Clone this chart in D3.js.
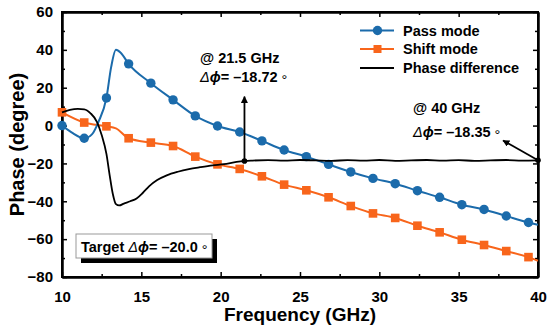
<!DOCTYPE html>
<html><head><meta charset="utf-8">
<script src="https://cdn.jsdelivr.net/npm/d3@7"></script>
<style>
body{margin:0;background:#fff;}
svg{display:block;font-family:Arial,"Liberation Sans",sans-serif;}
</style></head>
<body><svg id="c" width="550" height="331"></svg>
<script>
// ---- data ----
const markerFreq = [10,11.4,12.8,14.2,15.6,17.0,18.4,19.8,21.2,22.6,24.0,25.4,26.8,28.2,29.6,31.0,32.4,33.8,35.2,36.6,38.0,39.4];
const passMarkers = [0,-6.7,14.6,32.6,22.4,13.6,5.1,-0.2,-3.4,-8.1,-12.9,-16.4,-20.5,-24.5,-27.9,-30.7,-34.4,-37.9,-41.8,-44.3,-47.8,-51.2];
const shiftMarkers = [7.0,1.6,-0.4,-6.7,-9.0,-10.8,-16.4,-20.5,-22.9,-26.8,-31.2,-34.2,-37.9,-42.5,-46.4,-48.8,-52.9,-56.4,-60.3,-63.1,-66.3,-69.5];
const passExtraFreq = [10.6,11.9,12.3,13.1,13.4,13.7,40];
const passExtraVal  = [-3.6,-4.5,2.0,31.0,40.0,38.5,-52.4];
const shiftExtraFreq = [13.4,40];
const shiftExtraVal  = [-1.5,-71.4];
const diffFreq = [10,10.5,11.0,11.4,11.8,12.2,12.5,12.8,13.0,13.2,13.4,13.6,13.9,14.3,14.7,15.1,15.5,16.0,16.6,17.3,18.0,18.7,19.5,20.2,21.0,21.5,22,23,24,25,26,27,28,29,30,31,32,33,34,35,36,37,38,39,40];
const diffVal  = [7,8.3,8.8,8.6,6.5,2,-5,-15,-26,-36,-41.5,-42.2,-41.2,-40,-38.5,-35.5,-32,-28.8,-26.3,-24.4,-23,-22,-21,-20.4,-19.2,-18.72,-18.5,-18.3,-18.5,-18.2,-18.4,-18.6,-18.3,-18.5,-18.2,-18.6,-18.4,-18.2,-18.5,-18.3,-18.6,-18.4,-18.2,-18.5,-18.35];
const xTicks = [10,15,20,25,30,35,40];
const xMinor = [12.5,17.5,22.5,27.5,32.5,37.5];
const yTicks = [-80,-60,-40,-20,0,20,40,60];
const yMinor = [-70,-50,-30,-10,10,30,50];
const seriesNames = ["Pass mode","Shift mode","Phase difference"];
const colors = {pass:"#1b6bab", shift:"#f8651b", diff:"#000"};
const annot1 = {f:21.5, v:-18.72, tipV:15.3, l1:"@ 21.5 GHz", l2:"–18.72"};
const annot2 = {f:40, v:-18.35, tipF:37.8, tipV:-7.9, l1:"@ 40 GHz", l2:"–18.35"};
const targetVal = "–20.0";

// ---- chart ----
(function(){
const W=550,H=331, m={l:62,r:12,t:12,b:54};
const svg=d3.select("#c");
const x=d3.scaleLinear().domain([10,40]).range([m.l,W-m.r]);
const y=d3.scaleLinear().domain([-80,60]).range([H-m.b,m.t]);
const FS=15;

svg.append("defs").append("marker").attr("id","ah").attr("viewBox","0 0 10 10")
  .attr("refX",9).attr("refY",5).attr("markerWidth",7).attr("markerHeight",7)
  .attr("markerUnits","userSpaceOnUse").attr("orient","auto")
  .append("path").attr("d","M0,0L10,5L0,10z").attr("fill","#000");

function axisStyle(g){
  g.selectAll(".domain").attr("stroke","#000").attr("stroke-width",2);
  g.selectAll(".tick line").attr("stroke","#000").attr("stroke-width",1.5);
  g.selectAll("text").attr("font-size",FS).attr("font-weight","bold").attr("fill","#000")
    .attr("font-family",'Arial,"Liberation Sans",sans-serif');
}
const pB = H-m.b, pT=m.t, pL=m.l, pR=W-m.r;
svg.append("g").attr("transform",`translate(0,${pB})`)
  .call(d3.axisBottom(x).tickValues(xTicks).tickFormat(d3.format("d")).tickSize(-5).tickSizeOuter(0).tickPadding(14)).call(axisStyle);
svg.append("g").attr("transform",`translate(0,${pB})`)
  .call(d3.axisBottom(x).tickValues(xMinor).tickFormat("").tickSize(-3).tickSizeOuter(0)).call(axisStyle);
svg.append("g").attr("transform",`translate(0,${pT})`)
  .call(d3.axisTop(x).tickValues(xTicks).tickFormat("").tickSize(-5).tickSizeOuter(0)).call(axisStyle);
svg.append("g").attr("transform",`translate(0,${pT})`)
  .call(d3.axisTop(x).tickValues(xMinor).tickFormat("").tickSize(-3).tickSizeOuter(0)).call(axisStyle);
svg.append("g").attr("transform",`translate(${pL},0)`)
  .call(d3.axisLeft(y).tickValues(yTicks).tickFormat(d3.format("d")).tickSize(-5).tickSizeOuter(0).tickPadding(9)).call(axisStyle);
svg.append("g").attr("transform",`translate(${pL},0)`)
  .call(d3.axisLeft(y).tickValues(yMinor).tickFormat("").tickSize(-3).tickSizeOuter(0)).call(axisStyle);
svg.append("g").attr("transform",`translate(${pR},0)`)
  .call(d3.axisRight(y).tickValues(yTicks).tickFormat("").tickSize(-5).tickSizeOuter(0)).call(axisStyle);
svg.append("g").attr("transform",`translate(${pR},0)`)
  .call(d3.axisRight(y).tickValues(yMinor).tickFormat("").tickSize(-3).tickSizeOuter(0)).call(axisStyle);
svg.append("rect").attr("x",pL).attr("y",pT).attr("width",pR-pL).attr("height",pB-pT)
  .attr("fill","none").attr("stroke","#000").attr("stroke-width",2);

// titles
svg.append("text").attr("x",(pL+pR)/2).attr("y",321).attr("text-anchor","middle")
  .attr("font-size",19).attr("font-weight","bold").text("Frequency (GHz)");
svg.append("text").attr("transform",`translate(24,${(pT+pB)/2}) rotate(-90)`).attr("text-anchor","middle")
  .attr("font-size",20).attr("font-weight","bold").text("Phase (degree)");

// lines
const line=d3.line().x(d=>x(d[0])).y(d=>y(d[1])).curve(d3.curveMonotoneX);
function merge(f,v,ef,ev){
  const a=f.map((d,i)=>[d,v[i]]).concat(ef.map((d,i)=>[d,ev[i]]));
  return a.sort((p,q)=>p[0]-q[0]);
}
const passLine=merge(markerFreq,passMarkers,passExtraFreq,passExtraVal);
const shiftLine=merge(markerFreq,shiftMarkers,shiftExtraFreq,shiftExtraVal);
const diffLine=diffFreq.map((d,i)=>[d,diffVal[i]]);

svg.append("path").datum(shiftLine).attr("d",line).attr("fill","none").attr("stroke",colors.shift).attr("stroke-width",2);
svg.append("g").selectAll("rect").data(markerFreq).join("rect")
  .attr("x",d=>x(d)-4.3).attr("y",(d,i)=>y(shiftMarkers[i])-4.3).attr("width",8.6).attr("height",8.6).attr("fill",colors.shift);
svg.append("path").datum(passLine).attr("d",line).attr("fill","none").attr("stroke",colors.pass).attr("stroke-width",2);
svg.append("g").selectAll("circle").data(markerFreq).join("circle")
  .attr("cx",d=>x(d)).attr("cy",(d,i)=>y(passMarkers[i])).attr("r",4.7).attr("fill",colors.pass);
svg.append("path").datum(diffLine).attr("d",line)
  .attr("fill","none").attr("stroke",colors.diff).attr("stroke-width",1.8);

// legend
const leg=svg.append("g");
const legY=[30.5,49,68];
seriesNames.forEach((n,i)=>{
  const c=[colors.pass,colors.shift,colors.diff][i];
  leg.append("line").attr("x1",360).attr("x2",394).attr("y1",legY[i]).attr("y2",legY[i]).attr("stroke",c).attr("stroke-width",2);
  if(i===0) leg.append("circle").attr("cx",377.5).attr("cy",legY[i]).attr("r",4.7).attr("fill",c);
  if(i===1) leg.append("rect").attr("x",373.5).attr("y",legY[i]-4).attr("width",8).attr("height",8).attr("fill",c);
  leg.append("text").attr("x",403).attr("y",legY[i]+5).attr("font-size",14.5).attr("font-weight","bold").text(n);
});

function dphi(g,xp,yp,val,fs){
  const t=g.append("text").attr("x",xp).attr("y",yp).attr("font-size",fs).attr("font-weight","bold");
  t.append("tspan").attr("font-style","italic").attr("font-weight","normal").text("Δ");
  t.append("tspan").attr("font-style","italic").text("ϕ");
  t.append("tspan").text("= "+val+" ");
  t.append("tspan").attr("font-weight","normal").attr("font-size",fs).attr("dy",3).text("°");
  return t;
}
const a1=svg.append("g");
a1.append("text").attr("x",200).attr("y",63).attr("font-size",14.5).attr("font-weight","bold").text(annot1.l1);
dphi(a1,200,82,annot1.l2,14.5);
a1.append("line").attr("x1",x(annot1.f)).attr("y1",y(annot1.v)).attr("x2",x(annot1.f)).attr("y2",y(annot1.tipV))
  .attr("stroke","#000").attr("stroke-width",1.8).attr("marker-end","url(#ah)");
a1.append("circle").attr("cx",x(annot1.f)).attr("cy",y(annot1.v)).attr("r",2.8).attr("fill","#000");
const a2=svg.append("g");
a2.append("text").attr("x",413).attr("y",113).attr("font-size",14.5).attr("font-weight","bold").text(annot2.l1);
dphi(a2,413,137,annot2.l2,14.5);
a2.append("line").attr("x1",x(annot2.f)).attr("y1",y(annot2.v)).attr("x2",x(annot2.tipF)).attr("y2",y(annot2.tipV))
  .attr("stroke","#000").attr("stroke-width",1.8).attr("marker-end","url(#ah)");
a2.append("circle").attr("cx",x(annot2.f)).attr("cy",y(annot2.v)).attr("r",2.8).attr("fill","#000");

const tb=svg.append("g");
tb.append("rect").attr("x",81).attr("y",239).attr("width",136).attr("height",24).attr("fill","#000");
tb.append("rect").attr("x",76).attr("y",234).attr("width",136).attr("height",24).attr("fill","#fff").attr("stroke","#999").attr("stroke-width",1);
const tt=tb.append("text").attr("x",81).attr("y",252).attr("font-size",14.5).attr("font-weight","bold");
tt.append("tspan").text("Target ");
tt.append("tspan").attr("font-style","italic").attr("font-weight","normal").text("Δ");
tt.append("tspan").attr("font-style","italic").text("ϕ");
tt.append("tspan").text("= "+targetVal+" ");
tt.append("tspan").attr("font-weight","normal").attr("font-size",14.5).attr("dy",3).text("°");
})();
</script></body></html>
